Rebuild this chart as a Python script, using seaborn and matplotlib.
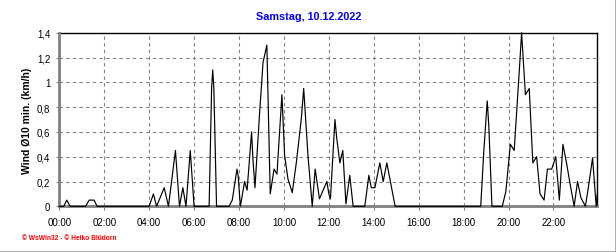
import matplotlib
matplotlib.use("Agg")
import matplotlib.pyplot as plt
from matplotlib.lines import Line2D
from matplotlib.ticker import FixedLocator, MultipleLocator
import seaborn as sns
import pandas as pd

# ---- data (hours of day, wind 10-min mean km/h) ----
hours = [0.00, 0.20, 0.33, 0.48, 1.17, 1.33, 1.55, 1.68, 4.00, 4.19, 4.33, 4.67,
         4.86, 5.17, 5.35, 5.50, 5.64, 5.83, 6.00, 6.67, 6.78, 6.83, 6.88, 7.00,
         7.56, 7.70, 7.91, 7.96, 8.06, 8.25, 8.36, 8.56, 8.62, 8.71, 8.92, 9.07,
         9.24, 9.39, 9.56, 9.69, 9.91, 10.03, 10.18, 10.37, 10.55, 10.77, 10.88,
         11.07, 11.26, 11.39, 11.47, 11.58, 11.91, 12.00, 12.07, 12.27, 12.35,
         12.49, 12.62, 12.76, 12.93, 13.08, 13.60, 13.78, 13.89, 14.05, 14.27,
         14.42, 14.58, 14.95, 18.76, 18.90, 19.05, 19.12, 19.26, 19.72, 19.88,
         20.08, 20.25, 20.48, 20.58, 20.75, 20.92, 21.08, 21.25, 21.40, 21.58,
         21.73, 21.92, 22.10, 22.26, 22.42, 22.58, 22.72, 22.92, 23.07, 23.22,
         23.42, 23.55, 23.74, 23.90, 23.95]
wind = [0, 0, 0.05, 0, 0, 0.05, 0.05, 0, 0, 0.10, 0, 0.15,
        0, 0.45, 0, 0.15, 0, 0.45, 0, 0, 0.95, 1.10, 0.95, 0,
        0, 0.05, 0.30, 0.25, 0, 0.20, 0.13, 0.60, 0.38, 0.15, 0.76, 1.16,
        1.30, 0.10, 0.30, 0.26, 0.90, 0.41, 0.22, 0.11, 0.35, 0.70, 0.95,
        0.41, 0, 0.30, 0.20, 0.06, 0.20, 0.10, 0.06, 0.70, 0.55,
        0.35, 0.45, 0.02, 0.25, 0, 0, 0.25, 0.15, 0.15, 0.35,
        0.20, 0.35, 0, 0, 0.45, 0.85, 0.65, 0, 0, 0.12,
        0.50, 0.45, 1.10, 1.40, 0.90, 0.95, 0.35, 0.40, 0.10, 0.05,
        0.30, 0.30, 0.40, 0.05, 0.50, 0.35, 0.20, 0, 0.20, 0.07,
        0, 0.15, 0.39, 0, 0.10]

x_ticks = [0, 2, 4, 6, 8, 10, 12, 14, 16, 18, 20, 22]
x_labels = ["00:00", "02:00", "04:00", "06:00", "08:00", "10:00", "12:00",
            "14:00", "16:00", "18:00", "20:00", "22:00"]
y_ticks = [0, 0.2, 0.4, 0.6, 0.8, 1.0, 1.2, 1.4]
y_labels = ["0", "0,2", "0,4", "0,6", "0,8", "1", "1,2", "1,4"]

title = "Samstag, 10.12.2022"
ylabel = "Wind Ø10 min. (km/h)"
footer = "© WsWin32 - © Heiko Blüdorn"

# ---- figure ----
sns.set_style("white")
plt.rcParams["font.family"] = ["Liberation Sans", "DejaVu Sans"]

W, H = 616, 253
fig = plt.figure(figsize=(W / 100, H / 100), dpi=100)
fig.patch.set_facecolor("white")
ax = fig.add_axes([59.3 / W, 1 - 207.3 / H, (597.3 - 59.3) / W, (207.3 - 33.7) / H])
ax.set_facecolor("white")

df = pd.DataFrame({"hour": hours, "wind": wind})
sns.lineplot(data=df, x="hour", y="wind", ax=ax, color="black", linewidth=0.85,
             zorder=5, clip_on=False)

ax.set_xlim(0, 23.95)
ax.set_ylim(0, 1.4)
ax.xaxis.set_major_locator(FixedLocator(x_ticks))
ax.set_xticklabels(x_labels)
ax.xaxis.set_minor_locator(MultipleLocator(0.5))
ax.yaxis.set_major_locator(FixedLocator(y_ticks))
ax.set_yticklabels(y_labels)

ax.grid(True, which="major", color="#808080", linestyle=(0, (3, 3)), linewidth=0.8)
ax.set_axisbelow(True)

for side in ("top", "right"):
    ax.spines[side].set_color("black")
    ax.spines[side].set_linewidth(1.0)
for side in ("left", "bottom"):
    ax.spines[side].set_color("#808080")
    ax.spines[side].set_linewidth(2.0)
    ax.spines[side].set_zorder(3)

ax.tick_params(axis="x", which="major", direction="out", length=3, width=0.8,
               color="#808080", labelsize=7, pad=5, labelcolor="black")
ax.tick_params(axis="x", which="minor", direction="out", length=2.5, width=0.8,
               color="#808080")
ax.tick_params(axis="y", which="major", direction="out", length=2.5, width=0.8,
               color="#808080", labelsize=7, pad=4, labelcolor="black")
ax.tick_params(bottom=True, left=True, top=False, right=False)

ax.set_xlabel("")
ax.set_ylabel("")
fig.text(27 / W, 1 - 120.5 / H, ylabel, rotation=90, ha="center", va="center",
         fontsize=7.5, fontweight="bold", color="black")

fig.text(309 / W, 1 - 17.5 / H, title, ha="center", va="center",
         fontsize=7.8, fontweight="bold", color="#0000ff")

fig.text(22 / W, 1 - 238.5 / H, footer, ha="left", va="center",
         fontsize=4.8, fontweight="bold", color="#ff0000")

# outer frame (bottom & right grey border)
fig.add_artist(Line2D([0, 1], [0.5 / H, 0.5 / H], transform=fig.transFigure,
                      color="#a0a0a0", linewidth=1.2))
fig.add_artist(Line2D([1 - 0.5 / W, 1 - 0.5 / W], [0, 1], transform=fig.transFigure,
                      color="#a0a0a0", linewidth=1.2))

fig.savefig("out.png", dpi=100, facecolor="white")
